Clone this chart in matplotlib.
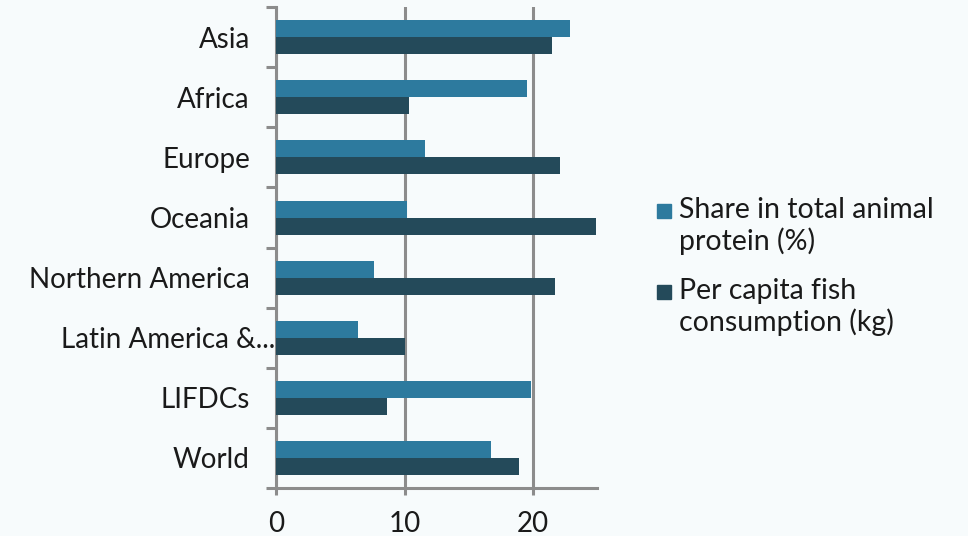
import matplotlib
import matplotlib.pyplot as plt
import matplotlib.transforms as mtrans
from matplotlib.patches import Rectangle
import numpy as np

matplotlib.use("Agg")
plt.rcParams["font.family"] = ["Lato", "DejaVu Sans"]

# Data.
regions = ["Asia", "Africa", "Europe", "Oceania", "Northern America",
           "Latin America &...", "LIFDCs", "World"]
share_protein = [22.9, 19.5, 11.6, 10.2, 7.6, 6.4, 19.8, 16.7]
per_capita_kg = [21.5, 10.3, 22.1, 24.9, 21.7, 10.0, 8.6, 18.9]
series_names = ["Share in total animal\nprotein (%)",
                "Per capita fish\nconsumption (kg)"]

bg = "#F7FBFC"
c_share = "#2D7A9E"
c_kg = "#244A5A"
grey = "#8C8C8C"
W, H = 968, 536

fig = plt.figure(figsize=(9.68, 5.36), dpi=100, facecolor=bg)
ax = fig.add_axes([276.3 / W, 0.090, 321 / W, 0.8963], facecolor=bg)

pos = np.arange(len(regions))
h = 0.283
ax.barh(pos - h / 2, share_protein, height=h, color=c_share, zorder=3)
ax.barh(pos + h / 2, per_capita_kg, height=h, color=c_kg, zorder=3)

ax.set_ylim(len(regions) - 0.5, -0.5)
ax.set_xlim(0, 25)
ax.set_xticks([0, 10, 20])
ax.set_yticks(pos)
ax.set_yticklabels(regions)
ax.set_yticks(np.arange(len(regions) + 1) - 0.5, minor=True)

ax.tick_params(axis="y", which="major", length=0, pad=19, labelsize=20,
               labelcolor="#1a1a1a")
ax.tick_params(axis="y", which="minor", length=7, width=2.2, color=grey)
ax.tick_params(axis="x", length=5, width=2.2, color=grey, pad=12,
               labelsize=20, labelcolor="#1a1a1a")

# the truncated label sits closer to the axis in the original
for lab in ax.get_yticklabels():
    if lab.get_text().startswith("Latin"):
        lab.set_transform(lab.get_transform() +
                          mtrans.ScaledTranslation(0.25, 0, fig.dpi_scale_trans))

ax.grid(axis="x", color=grey, linewidth=2.2, zorder=0)
for side in ["top", "right"]:
    ax.spines[side].set_visible(False)
for side in ["left", "bottom"]:
    ax.spines[side].set_color(grey)
    ax.spines[side].set_linewidth(2.2)

# legend: square lined up with first line of each label
# (va="baseline" on two-line text pins the last line, so add one line step)
line_step = 31.5
for name, col, base in zip(series_names, [c_share, c_kg], [218.5, 300.0]):
    fig.add_artist(Rectangle((657 / W, 1 - (base - 1) / H), 14 / W, 14 / H,
                             transform=fig.transFigure, color=col))
    fig.text(679 / W, 1 - (base + line_step) / H, name, fontsize=20.5,
             color="#1a1a1a", va="baseline", ha="left", linespacing=1.2)

fig.savefig("out.png", dpi=100, facecolor=bg)
